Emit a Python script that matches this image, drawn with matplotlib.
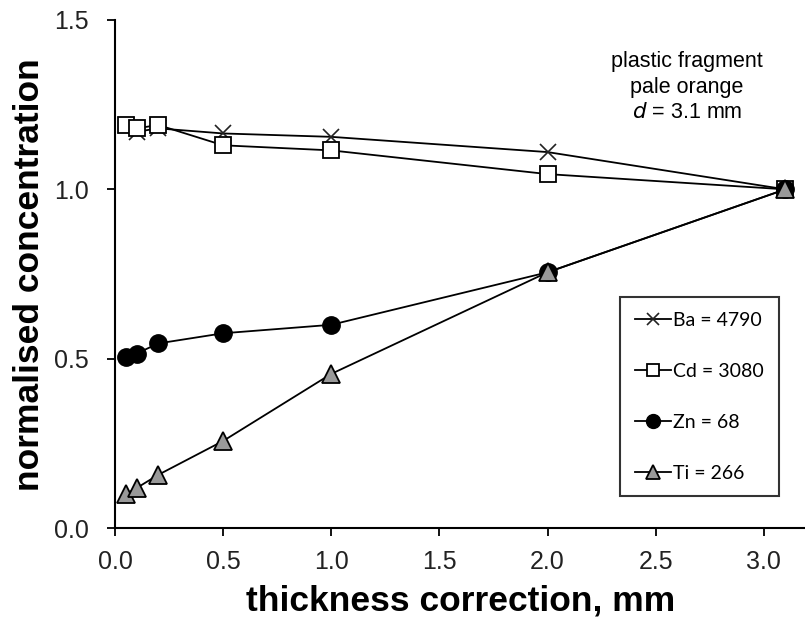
import matplotlib
matplotlib.use("Agg")
import matplotlib.pyplot as plt

thickness = [0.05, 0.1, 0.2, 0.5, 1.0, 2.0, 3.1]
ba = [1.19, 1.17, 1.18, 1.165, 1.155, 1.11, 1.0]
cd = [1.19, 1.18, 1.19, 1.13, 1.115, 1.045, 1.0]
zn = [0.505, 0.515, 0.545, 0.575, 0.60, 0.755, 1.0]
ti = [0.10, 0.118, 0.157, 0.257, 0.455, 0.755, 1.0]
labels = ["Ba = 4790", "Cd = 3080", "Zn = 68", "Ti = 266"]
xticks = [0.0, 0.5, 1.0, 1.5, 2.0, 2.5, 3.0]
yticks = [0.0, 0.5, 1.0, 1.5]

plt.rcParams['font.family'] = ['Liberation Sans', 'DejaVu Sans']

fig = plt.figure(figsize=(8.05, 6.22), dpi=100)
ax = fig.add_axes([115/805, 94/622, 692/805, 508/622])

lw = 1.3
ax.plot(thickness, ba, color='black', lw=lw, marker='x', ms=11, mew=1.2,
        mec='#222222', label=labels[0])
ax.plot(thickness, cd, color='black', lw=lw, marker='s', ms=11, mfc='white',
        mec='black', mew=1.3, label=labels[1])
ax.plot(thickness, zn, color='black', lw=lw, marker='o', ms=12.5, mfc='black',
        mec='black', label=labels[2])
ax.plot(thickness, ti, color='black', lw=lw, marker='^', ms=12.5, mfc='#999999',
        mec='black', mew=1.3, label=labels[3])

ax.set_xlim(0, 3.2)
ax.set_ylim(0, 1.5)
ax.set_xticks(xticks)
ax.set_yticks(yticks)
ax.set_xticklabels([f"{v:.1f}" for v in xticks])
ax.set_yticklabels([f"{v:.1f}" for v in yticks])
ax.tick_params(direction='out', length=6, width=1.3, labelsize=18,
               labelcolor='#222222')
ax.tick_params(axis='y', pad=13)
ax.tick_params(axis='x', pad=10)
for s in ['top', 'right']:
    ax.spines[s].set_visible(False)
for s in ['left', 'bottom']:
    ax.spines[s].set_linewidth(1.5)

fig.text(461/805, 1 - 601/622, "thickness correction, mm", ha='center',
         va='center', fontsize=25.5, fontweight='bold')
fig.text(30/805, 1 - 275/622, "normalised concentration", ha='center',
         va='center', rotation=90, fontsize=25.5, fontweight='bold')

ax.text(687/805, 1 - 62/622, "plastic fragment", transform=fig.transFigure,
        ha='center', va='center', fontsize=15.5)
ax.text(687/805, 1 - 87/622, "pale orange", transform=fig.transFigure,
        ha='center', va='center', fontsize=15.5)
ax.text(687/805, 1 - 112/622, r"$\it{d}$ = 3.1 mm", transform=fig.transFigure,
        ha='center', va='center', fontsize=15.5)

leg = ax.legend(loc='upper left', bbox_to_anchor=(620/805, 1 - 297/622),
                bbox_transform=fig.transFigure, frameon=True, fancybox=False,
                prop={'family': 'Lato', 'size': 14}, handlelength=1.85,
                handletextpad=0.15, labelspacing=1.75, borderpad=0.75,
                borderaxespad=0, markerscale=0.8)
leg.get_frame().set_edgecolor('black')
leg.get_frame().set_linewidth(1.5)

fig.savefig("out.png", dpi=100)
